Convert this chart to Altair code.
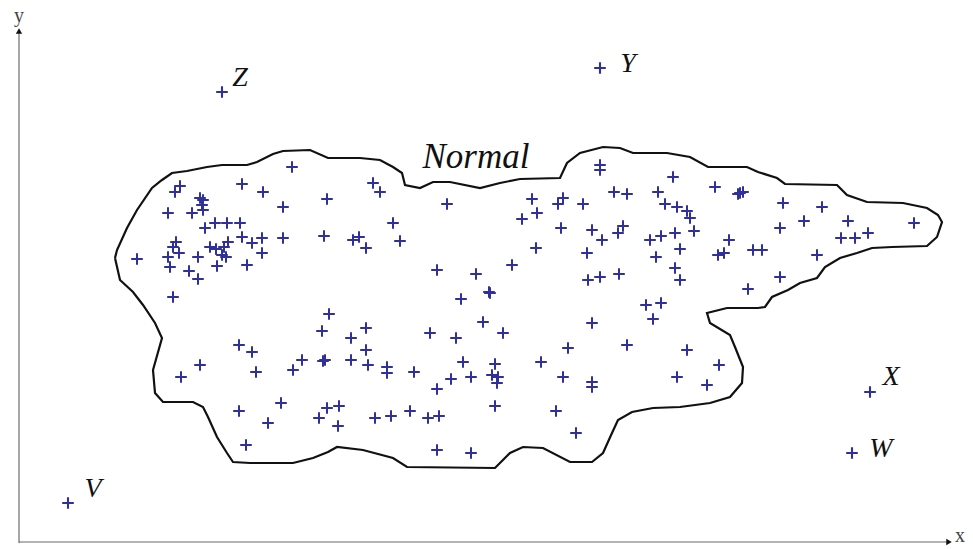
import altair as alt
import pandas as pd

# Normal observations (x, y in drawing units; y grows downward)
normal_x = [
    292, 180, 175, 242, 263, 373, 380, 200, 203, 202, 203, 168, 192, 283, 327,
    215, 227, 240, 205, 242, 252, 262, 283, 324, 353, 359, 366, 393, 400,
    176, 173, 179, 168, 170, 137, 198, 210, 216, 224, 228, 222, 226,
    217, 247, 262, 189, 198, 173,
    600, 600, 447, 532, 537, 522, 558, 563, 583, 614, 627, 673, 658, 665, 677, 687, 690, 715,
    561, 592, 602, 618, 623, 650, 661, 675, 694, 680, 656, 587, 536, 512, 437, 476, 489, 461,
    588, 600, 619, 675, 680, 646, 661,
    740, 743, 738, 783, 822, 780, 804, 848, 841, 855, 868, 914, 729, 718, 724, 753, 762, 817, 780, 748,
    329, 322, 366, 351, 366, 239, 252, 200, 181, 256, 293, 302, 325, 323, 351, 368, 387, 387, 414, 430,
    239, 281, 268, 327, 339, 319, 338, 375, 391, 410, 428, 246,
    490, 653, 592, 483, 456, 503, 568, 627, 687, 719, 463, 495, 541,
    451, 471, 492, 498, 497, 437, 563, 592, 592, 677, 707, 495, 439, 556, 576, 437, 471,
]
normal_y = [
    167, 186, 192, 184, 192, 183, 192, 198, 200, 205, 210, 213, 213, 207, 199,
    223, 223, 223, 228, 237, 243, 238, 238, 236, 240, 237, 248, 223, 241,
    242, 247, 253, 257, 267, 259, 257, 247, 249, 247, 242, 255, 257,
    266, 265, 253, 271, 279, 297,
    165, 170, 204, 199, 213, 219, 204, 198, 204, 192, 194, 177, 192, 204, 207, 211, 218, 187,
    228, 230, 240, 233, 226, 240, 236, 233, 231, 249, 257, 253, 248, 265, 270, 274, 292, 299,
    280, 277, 274, 268, 280, 305, 303,
    193, 192, 194, 203, 207, 228, 221, 221, 238, 238, 233, 223, 240, 255, 253, 250, 250, 255, 277, 289,
    314, 331, 328, 338, 350, 345, 352, 365, 377, 372, 370, 360, 360, 361, 360, 365, 367, 373, 372, 333,
    411, 403, 423, 408, 406, 418, 426, 418, 416, 411, 418, 445,
    293, 319, 323, 322, 338, 333, 348, 345, 350, 365, 362, 364, 362,
    379, 377, 375, 377, 383, 389, 377, 382, 387, 377, 385, 406, 416, 411, 433, 450, 453,
]

# Boundary of the normal region, traced clockwise
outline_x = [
    115, 117, 127, 137, 152, 162, 172, 187, 207, 222, 247, 257, 273, 283, 310, 328, 360, 380,
    393, 402, 405, 420, 433, 450, 480, 500, 520, 560, 567, 580, 603, 620, 633, 667, 690, 708,
    747, 758, 777, 785, 837, 847, 867, 903, 927, 938, 942, 937, 927, 892, 872, 857, 840, 825,
    817, 800, 788, 772, 765, 758, 727, 707, 710, 730, 735, 743, 742, 730, 710, 680, 653, 632,
    618, 612, 603, 592, 570, 543, 523, 510, 495, 407, 393, 363, 337, 328, 313, 293, 250, 233,
    227, 217, 208, 203, 193, 163, 155, 153, 162, 155, 143, 133, 120, 115,
]
outline_y = [
    258, 250, 228, 210, 188, 180, 173, 171, 167, 165, 165, 162, 154, 151, 150, 158, 158, 160,
    167, 173, 185, 188, 182, 182, 188, 183, 179, 178, 163, 153, 147, 148, 153, 153, 157, 167,
    167, 172, 178, 184, 185, 195, 202, 203, 208, 215, 222, 237, 246, 247, 248, 253, 258, 267,
    278, 283, 290, 297, 307, 308, 308, 313, 323, 335, 347, 367, 383, 397, 403, 407, 408, 412,
    420, 433, 453, 462, 462, 448, 447, 453, 468, 467, 458, 450, 447, 452, 458, 463, 463, 462,
    453, 437, 417, 407, 402, 402, 393, 370, 338, 323, 305, 292, 280, 258,
]

# Anomalies and their labels
anom_names = ["V", "W", "X", "Y", "Z"]
anom_x = [68, 852, 870, 600, 222]
anom_y = [503, 453, 392, 68, 92]
anom_lx = [93, 881, 891, 628, 240]
anom_ly = [489, 449, 377, 64, 78]

W, H = 973, 549

pts = pd.DataFrame({"x": normal_x, "y": normal_y})
outline = pd.DataFrame({"x": outline_x, "y": outline_y, "i": list(range(len(outline_x)))})
anom = pd.DataFrame({"x": anom_x, "y": anom_y, "lx": anom_lx, "ly": anom_ly, "name": anom_names})

xs = alt.Scale(domain=[0, W], nice=False, zero=False)
ys = alt.Scale(domain=[0, H], nice=False, zero=False, reverse=True)
X = lambda f: alt.X(f"{f}:Q", scale=xs, axis=None)
Y = lambda f: alt.Y(f"{f}:Q", scale=ys, axis=None)

plus = "M-1,0L1,0M0,-1L0,1"
blue = "#30309c"

# Coordinate axes with arrowheads
axes_df = pd.DataFrame({"x": [19, 19], "y": [543, 542], "x2": [19, 948], "y2": [31, 542]})
axis_lines = alt.Chart(axes_df).mark_rule(color="#6a6a6a", strokeWidth=1.2).encode(
    x=X("x"), y=Y("y"), x2="x2:Q", y2="y2:Q"
)
heads_df = pd.DataFrame({"x": [19, 949], "y": [31, 542], "s": ["triangle-up", "triangle-right"]})
heads = alt.Chart(heads_df).mark_point(filled=True, color="#111", opacity=1, size=40).encode(
    x=X("x"), y=Y("y"), shape=alt.Shape("s:N", scale=None)
)
axis_names = pd.DataFrame({"x": [19, 960], "y": [16, 536], "t": ["y", "x"]})
axis_text = alt.Chart(axis_names).mark_text(
    font="Liberation Serif", fontSize=20, color="#444", align="center", baseline="middle"
).encode(x=X("x"), y=Y("y"), text="t:N")

region = alt.Chart(outline).mark_line(color="#111", strokeWidth=2.2, interpolate="linear").encode(
    x=X("x"), y=Y("y"), order="i:Q"
)

normal_pts = alt.Chart(pts).mark_point(
    shape=plus, size=135, strokeWidth=2, color=blue, opacity=1, filled=False
).encode(x=X("x"), y=Y("y"))

anom_pts = alt.Chart(anom).mark_point(
    shape=plus, size=135, strokeWidth=2.1, color=blue, opacity=1, filled=False
).encode(x=X("x"), y=Y("y"))

anom_labels = alt.Chart(anom).mark_text(
    font="Liberation Serif", fontStyle="italic", fontSize=28, color="#111",
    align="center", baseline="middle"
).encode(x=X("lx"), y=Y("ly"), text="name:N")

normal_label = alt.Chart(pd.DataFrame({"x": [476], "y": [157], "t": ["Normal"]})).mark_text(
    font="Liberation Serif", fontStyle="italic", fontSize=35, color="#111",
    align="center", baseline="middle"
).encode(x=X("x"), y=Y("y"), text="t:N")

chart = alt.layer(
    axis_lines, heads, axis_text, region, normal_pts, anom_pts, anom_labels, normal_label
).properties(
    width=W, height=H, padding=0, autosize=alt.AutoSizeParams(type="none"), background="white"
).configure_view(stroke=None)

chart.save("out.html", embed_options={"renderer": "svg", "actions": False})
